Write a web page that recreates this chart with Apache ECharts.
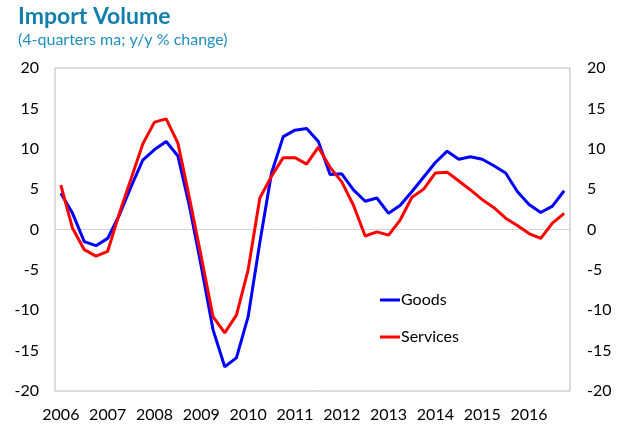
<!DOCTYPE html>
<html>
<head>
<meta charset="utf-8">
<script src="https://cdn.jsdelivr.net/npm/echarts@6/dist/echarts.min.js"></script>
<style>
  html, body { margin: 0; padding: 0; background: #fff; }
  #chart { width: 625px; height: 428px; }
</style>
</head>
<body>
<div id="chart"></div>
<script>
// quarterly data, 2006Q1 .. 2016Q4
const years = ['2006', '2007', '2008', '2009', '2010', '2011', '2012', '2013', '2014', '2015', '2016']
const quarters = ['Q1', 'Q2', 'Q3', 'Q4']

const goods = [
  4.5, 2.0, -1.5, -2.0, -1.1, 1.8, 5.3, 8.6, 9.9, 10.9, 9.1, 2.8,
  -4.6, -12.4, -17.0, -15.9, -10.8, -1.6, 7.0, 11.5, 12.3, 12.5, 10.9, 6.8,
  6.9, 4.9, 3.5, 3.9, 2.0, 3.0, 4.7, 6.5, 8.3, 9.7, 8.7, 9.0,
  8.7, 7.9, 7.0, 4.7, 3.1, 2.1, 2.9, 4.8
]
const services = [
  5.5, 0.15, -2.5, -3.3, -2.7, 2.0, 6.3, 10.6, 13.3, 13.7, 10.7, 3.8,
  -3.4, -10.8, -12.8, -10.6, -5.0, 3.9, 6.6, 8.9, 8.9, 8.1, 10.2, 7.7,
  5.9, 3.0, -0.8, -0.3, -0.7, 1.2, 4.0, 5.0, 7.0, 7.1, 6.0, 4.9,
  3.7, 2.7, 1.4, 0.5, -0.5, -1.1, 0.8, 2.0
]

const categories = years.flatMap((y) => quarters.map((q) => y + q))

const font = 'Lato'
const labelColor = '#000'
const transparent = 'rgba(0,0,0,0)'

const chart = echarts.init(document.getElementById('chart'), null, { renderer: 'canvas' })

chart.setOption({
  animation: false,
  textStyle: { fontFamily: font },
  title: [
    {
      text: 'Import Volume',
      left: 18,
      top: 5,
      padding: 0,
      textStyle: { fontFamily: font, fontSize: 23, fontWeight: 'bold', color: '#127fad' }
    },
    {
      text: '(4-quarters ma; y/y % change)',
      left: 18,
      top: 32,
      padding: 0,
      textStyle: { fontFamily: font, fontSize: 16, fontWeight: 'normal', color: '#1d8fc0' }
    }
  ],
  grid: {
    left: 55,
    right: 55,
    top: 68,
    bottom: 37,
    show: true,
    borderColor: '#b8b8b8',
    borderWidth: 1
  },
  legend: {
    orient: 'vertical',
    left: 380,
    top: 292,
    padding: 0,
    itemGap: 21,
    icon: 'rect',
    itemWidth: 20,
    itemHeight: 3,
    textStyle: { fontFamily: font, fontSize: 16, color: labelColor, padding: [0, 0, 0, -4] },
    data: ['Goods', 'Services']
  },
  xAxis: {
    type: 'category',
    data: categories,
    boundaryGap: true,
    axisLine: { show: false },
    axisTick: { show: false },
    axisLabel: {
      interval: 3,
      margin: 16,
      fontSize: 16,
      color: labelColor,
      formatter: (v) => v.slice(0, 4)
    }
  },
  yAxis: [
    {
      type: 'value',
      min: -20,
      max: 20,
      interval: 5,
      axisLine: { show: false },
      axisTick: { show: false },
      axisLabel: { margin: 16, fontSize: 16, color: labelColor },
      splitLine: {
        show: true,
        lineStyle: {
          color: [transparent, transparent, transparent, transparent, '#d4d4d4',
            transparent, transparent, transparent, transparent],
          width: 1
        }
      }
    },
    {
      type: 'value',
      position: 'right',
      min: -20,
      max: 20,
      interval: 5,
      axisLine: { show: false },
      axisTick: { show: false },
      axisLabel: { margin: 17, fontSize: 16, color: labelColor },
      splitLine: { show: false }
    }
  ],
  series: [
    {
      name: 'Goods',
      type: 'line',
      data: goods,
      symbol: 'none',
      color: '#0000ff',
      lineStyle: { color: '#0000ff', width: 3 }
    },
    {
      name: 'Services',
      type: 'line',
      data: services,
      symbol: 'none',
      color: '#ff0000',
      lineStyle: { color: '#ff0000', width: 3 }
    }
  ]
})
</script>
</body>
</html>
